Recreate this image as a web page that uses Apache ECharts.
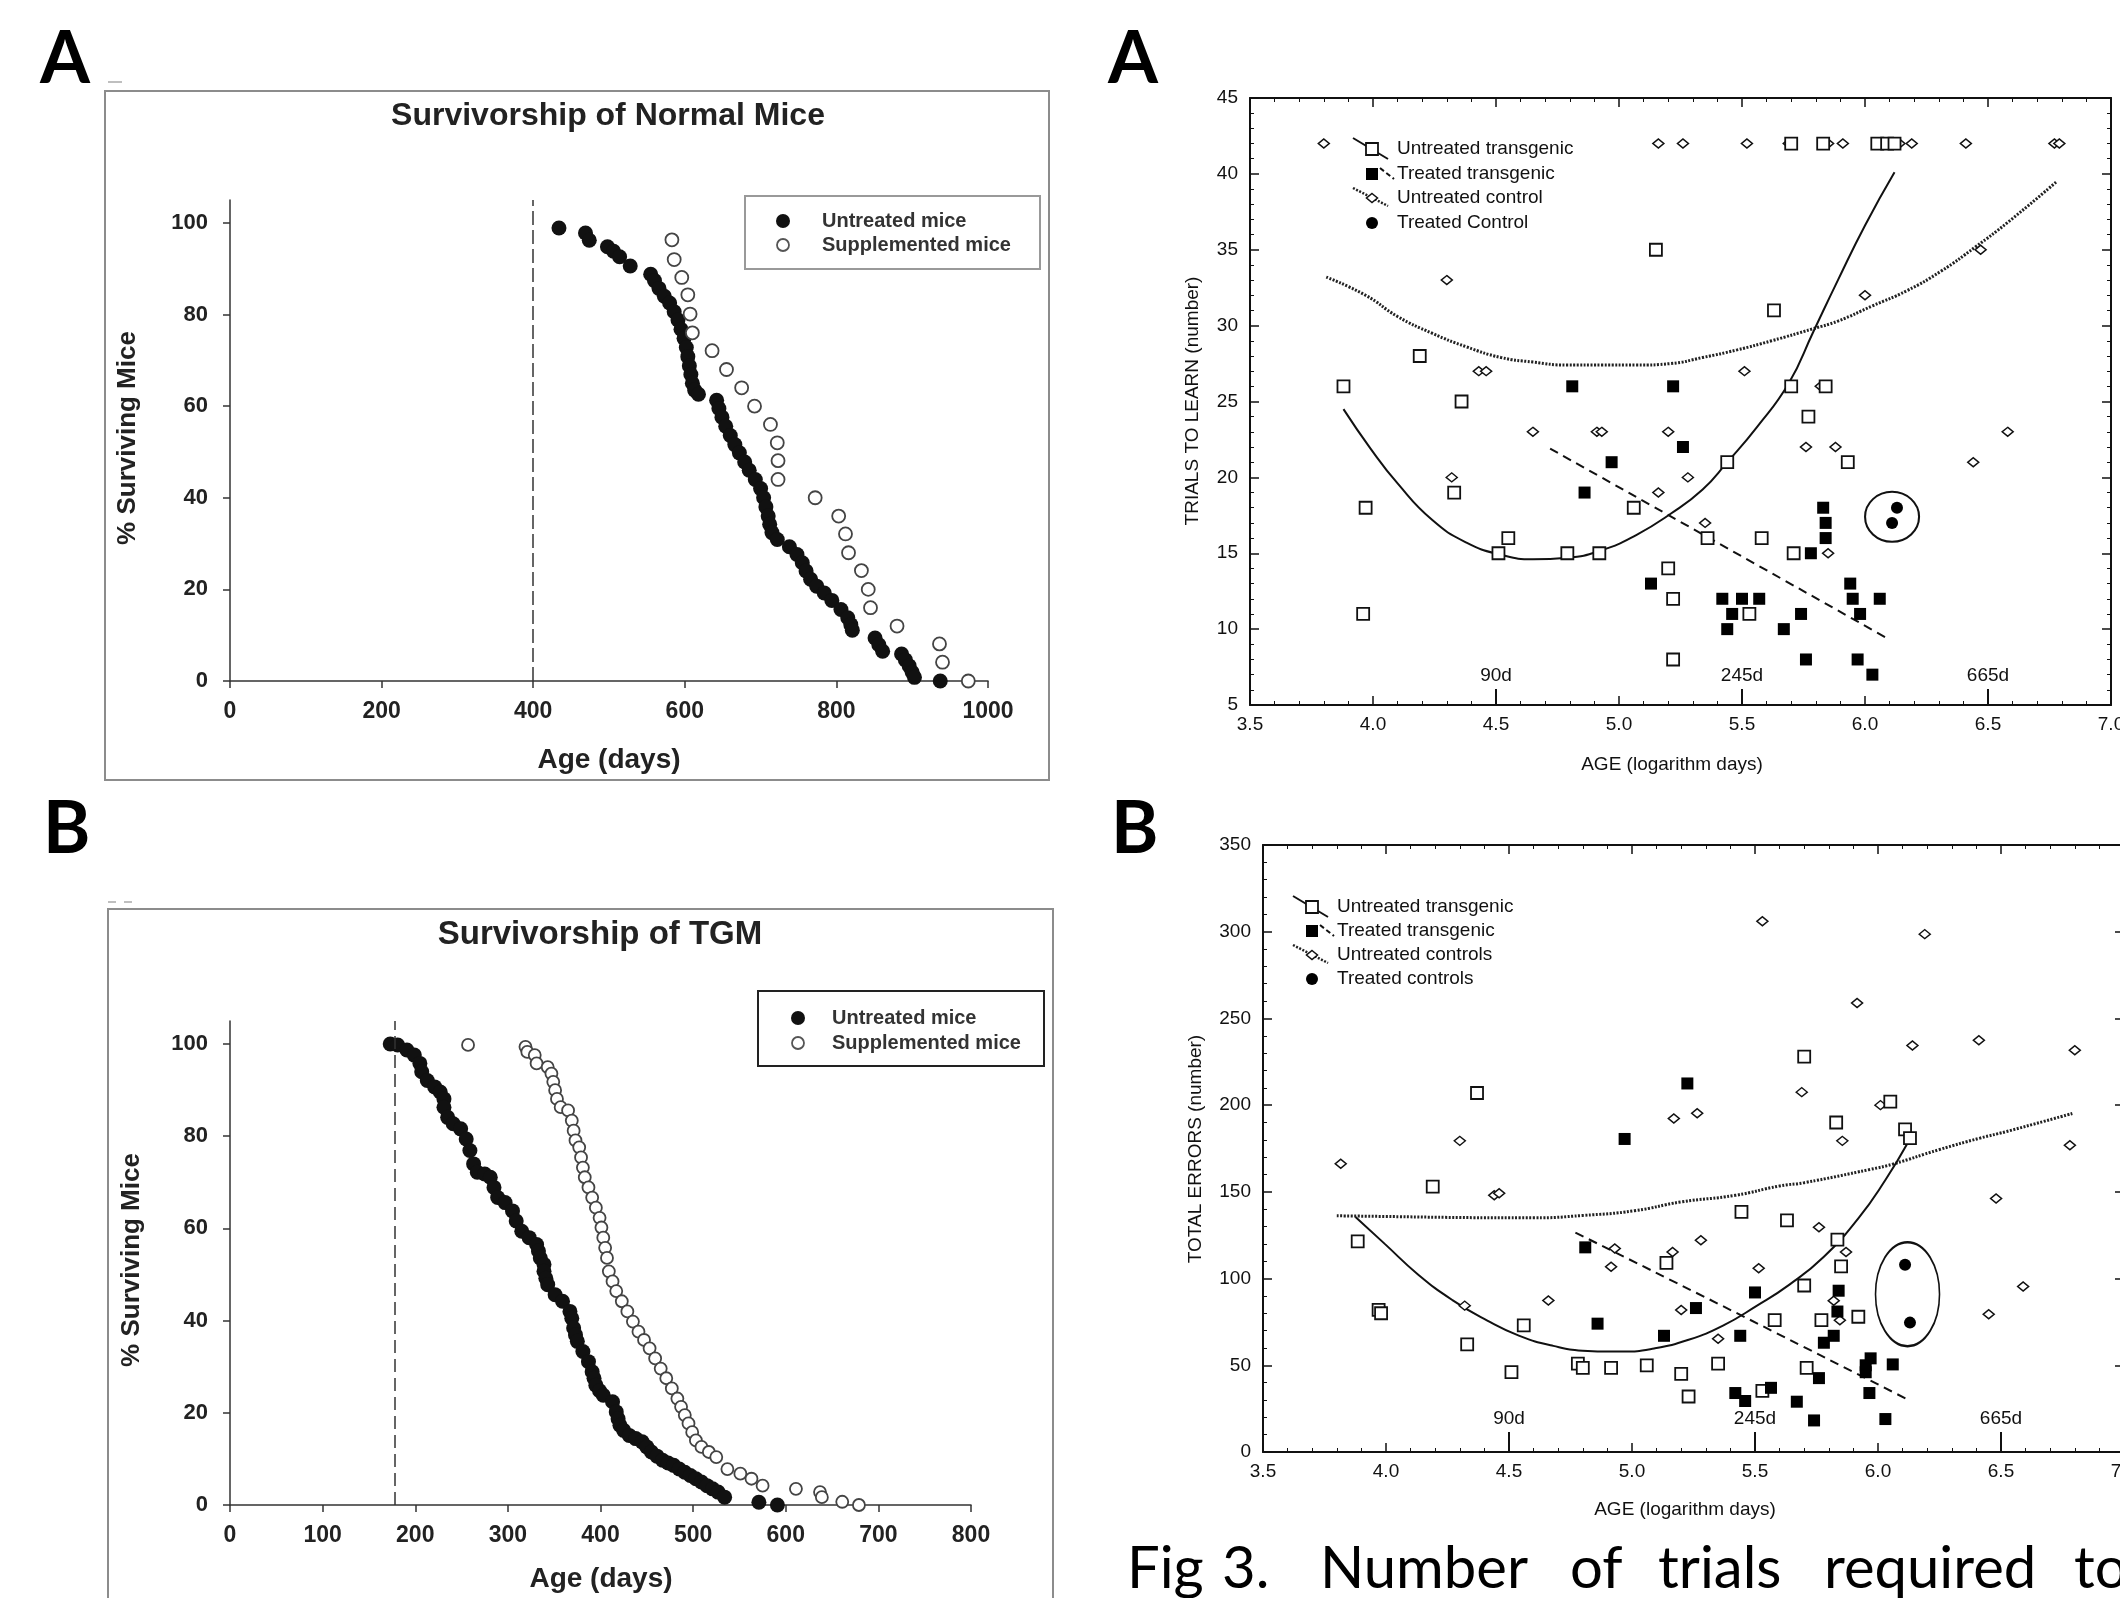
<!DOCTYPE html>
<html lang="en">
<head>
<meta charset="UTF-8">
<title>Survivorship and learning of mice</title>
<style>
    html, body { margin: 0; padding: 0; background: #fff; }
    #chart { width: 2120px; height: 1598px; }
</style>
</head>
<body>
<div id="chart"></div>
<script src="https://cdn.jsdelivr.net/npm/echarts@6/dist/echarts.min.js"></script>
<script>
// ---- survivorship of normal mice: [age in days, % surviving]
var normalUntreated = [
    [434,98.9],[469,97.8],[474,96.2],[498,94.8],[506,93.8],[514,92.6],[528,90.6],[555,88.8],[560,87.4],[566,85.7],
    [573,84.0],[580,82.5],[586,80.6],[591,78.8],[595,76.8],[599,74.8],[602,72.8],[604,70.8],[606,68.8],[608,66.9],
    [610,65.0],[613,63.5],[618,62.6],[642,61.3],[645,59.5],[649,57.6],[654,55.6],[660,53.6],[666,51.6],[672,49.8],
    [679,47.8],[685,46.0],[693,44.0],[700,42.0],[704,40.0],[707,38.0],[710,36.0],[712,34.2],[715,32.4],[722,30.9],
    [738,29.3],[748,27.6],[755,25.8],[760,24.0],[766,22.2],[774,20.7],[784,19.2],[794,17.6],[806,15.6],[815,13.8],
    [819,12.3],[821,11.1],[851,9.4],[856,7.9],[861,6.5],[886,5.9],[891,4.6],[896,3.3],[900,1.9],[903,0.8],[937,0]
];
var normalSupplemented = [
    [583,96.3],[586,92.0],[596,88.1],[604,84.3],[607,80.1],[610,76.0],[636,72.1],[655,68.0],[675,64.0],[692,60.0],
    [713,56.0],[722,52.0],[723,48.1],[723,44.0],[772,40.0],[803,36.0],[812,32.1],[816,28.0],[833,24.1],[842,20.0],
    [845,16.0],[880,12.0],[936,8.1],[940,4.1],[974,0]
];
var normalCutoff = 400;

// ---- survivorship of TGM
var tgmUntreated = [
    [173,100],[181,99.8],[191,98.7],[199,97.6],[205,95.8],[207,94.0],[213,92.1],[221,90.7],[227,89.6],[231,88.1],
    [231,86.3],[235,84.1],[241,82.7],[249,81.6],[255,79.4],[259,76.9],[263,74.0],[267,72.2],[275,71.8],[281,71.1],
    [285,68.9],[289,66.7],[297,65.6],[305,63.8],[309,61.6],[315,59.4],[323,58.0],[331,56.5],[333,55.1],[335,53.6],
    [339,52.2],[339,50.7],[341,49.2],[343,47.8],[351,45.6],[359,44.2],[367,42.0],[369,40.5],[371,38.4],[373,36.9],
    [375,35.5],[381,33.3],[387,31.1],[391,28.9],[393,27.5],[395,26.0],[399,24.8],[403,23.8],[413,22.4],[417,20.2],
    [419,18.7],[421,17.3],[425,16.2],[431,15.1],[438,14.4],[445,13.7],[450,12.6],[455,11.5],[461,10.6],[467,9.7],
    [473,9.1],[479,8.6],[485,7.8],[491,7.1],[497,6.4],[503,5.7],[509,5.0],[515,4.2],[521,3.5],[527,2.8],[534,1.7],
    [571,0.6],[591,0]
];
var tgmSupplemented = [
    [257,99.8],[319,99.4],[321,98.3],[329,97.6],[331,95.8],[343,95.0],[347,93.6],[349,91.8],[351,90.0],[353,88.1],
    [357,86.3],[365,85.6],[369,83.4],[371,81.2],[373,79.1],[377,77.6],[379,75.4],[381,73.2],[383,71.1],[387,68.9],
    [391,66.7],[395,64.5],[399,62.3],[401,60.2],[403,58.0],[405,55.8],[407,53.6],[409,50.7],[413,48.5],[417,46.4],
    [423,44.2],[429,42.0],[435,39.8],[441,37.6],[447,35.8],[453,34.0],[459,31.8],[465,29.6],[471,27.5],[477,25.3],
    [483,23.1],[487,21.3],[491,19.5],[495,17.7],[499,15.8],[503,14.0],[509,12.6],[517,11.5],[525,10.4],[537,7.8],
    [551,6.8],[563,5.7],[575,4.2],[611,3.5],[637,2.8],[639,1.7],[661,0.7],[679,0]
];
var tgmCutoff = 178;
var pctTicks = [0, 20, 40, 60, 80, 100];

// ---- trials to learn: [log age, trials]
var trialsUntreatedTg = [
    [3.88,26],[3.97,18],[3.96,11],[4.19,28],[4.33,19],[4.36,25],[4.51,15],[4.55,16],[4.79,15],[4.92,15],
    [5.06,18],[5.15,35],[5.20,14],[5.22,12],[5.22,8],[5.36,16],[5.44,21],[5.53,11],[5.58,16],[5.63,31],
    [5.70,26],[5.71,15],[5.77,24],[5.84,26],[5.93,21],[5.70,42],[5.83,42],[6.05,42],[6.09,42],[6.12,42]
];
var trialsTreatedTg = [
    [4.81,26],[5.22,26],[5.26,22],[4.97,21],[4.86,19],[5.13,13],[5.42,12],[5.46,11],[5.44,10],[5.50,12],
    [5.57,12],[5.67,10],[5.74,11],[5.76,8],[5.78,15],[5.83,18],[5.84,17],[5.84,16],[5.94,13],[5.95,12],
    [5.98,11],[5.97,8],[6.03,7],[6.06,12]
];
var trialsUntreatedCtl = [
    [3.80,42],[5.16,42],[5.26,42],[5.52,42],[5.69,42],[5.85,42],[5.91,42],[6.14,42],[6.19,42],[6.41,42],
    [6.77,42],[6.79,42],[4.30,33],[4.43,27],[4.46,27],[4.32,20],[4.65,23],[4.91,23],[4.93,23],[5.16,19],
    [5.20,23],[5.28,20],[5.35,17],[5.51,27],[5.76,22],[5.88,22],[5.85,15],[5.82,26],[6.00,32],[6.47,35],
    [6.58,23],[6.44,21]
];
var trialsTreatedCtl = [[6.13,18],[6.11,17]];
var trialsRing = [[6.11,17.4]];
var trialsFitUntreatedTg = [
    [3.88,24.5],[3.99,21.9],[4.10,19.6],[4.24,17.2],[4.38,15.7],[4.52,14.9],[4.65,14.6],[4.79,14.7],[4.93,15.2],
    [5.07,16.2],[5.21,17.6],[5.34,19.2],[5.44,21.0],[5.56,23.3],[5.69,26.2],[5.79,29.6],[5.89,33.0],[6.00,36.6],[6.12,40.1]
];
var trialsFitTreatedTg = [[4.72,21.9],[5.40,15.7],[6.09,9.4]];
var trialsFitUntreatedCtl = [
    [3.81,33.2],[3.97,32.0],[4.10,30.6],[4.24,29.5],[4.38,28.6],[4.52,27.9],[4.65,27.6],[4.79,27.4],[4.93,27.4],
    [5.07,27.4],[5.21,27.5],[5.34,27.9],[5.48,28.4],[5.62,29.0],[5.79,29.8],[5.89,30.3],[6.03,31.3],[6.17,32.3],
    [6.31,33.6],[6.45,35.2],[6.58,36.8],[6.78,39.5]
];

// ---- total errors: [log age, errors]
var errorsUntreatedTg = [
    [3.885,121.5],[3.97,82],[3.98,80],[4.19,153],[4.37,207],[4.33,62],[4.51,46],[4.56,73],[4.78,51],[4.80,48.5],
    [4.915,48.5],[5.06,50],[5.14,109],[5.20,45],[5.23,32],[5.35,51],[5.445,138.5],[5.53,35.3],[5.58,76],[5.63,133.5],
    [5.70,228],[5.70,96],[5.71,48.5],[5.77,76],[5.83,190],[5.835,122.4],[5.85,107],[5.92,78],[6.05,202],[6.11,186],[6.13,181]
];
var errorsTreatedTg = [
    [4.81,118],[4.86,74],[4.97,180.5],[5.225,212.5],[5.13,67],[5.26,83],[5.50,92],[5.44,67],[5.42,34],[5.46,29.4],
    [5.565,37],[5.67,29],[5.74,18.2],[5.76,42.6],[5.78,63],[5.82,67],[5.835,81],[5.84,93],[5.95,50],[5.95,46],
    [5.97,54],[5.965,34],[6.03,19],[6.06,50.5]
];
var errorsUntreatedCtl = [
    [3.816,166.2],[4.30,179.4],[4.32,84.4],[4.44,148],[4.46,149.2],[4.66,87.4],[4.915,106.8],[4.93,117.3],[5.17,192.3],[5.165,115.3],
    [5.20,81.9],[5.265,195.3],[5.28,122.1],[5.35,65.3],[5.515,106],[5.53,306],[5.69,207.5],[5.76,129.6],[5.82,87.2],[5.845,76],
    [5.855,179.4],[5.87,115.3],[5.915,258.9],[6.01,200],[6.14,234.4],[6.19,298.6],[6.41,237.4],[6.48,146.2],[6.45,79.4],[6.59,95.4],
    [6.78,176.9],[6.80,231.7]
];
var errorsTreatedCtl = [[6.11,108],[6.13,74.6]];
var errorsRing = [[6.12,91]];
var errorsFitUntreatedTg = [
    [3.876,135.5],[3.995,120],[4.13,102.4],[4.27,87.6],[4.41,75.9],[4.54,67.1],[4.68,61.2],[4.82,58.2],[4.90,57.9],
    [4.96,57.9],[5.09,59.7],[5.23,64.7],[5.37,72.9],[5.505,84.1],[5.64,96.5],[5.78,112.6],[5.92,134.7],[6.03,156.8],[6.12,178]
];
var errorsFitTreatedTg = [[4.77,126.5],[5.42,80.5],[6.12,30.3]];
var errorsFitUntreatedCtl = [
    [3.80,136.2],[4.00,135.8],[4.30,135.2],[4.60,135.0],[4.80,136.4],[5.01,139.1],[5.20,144.2],[5.42,148],
    [5.60,153.4],[5.70,155.3],[5.97,163],[6.06,166],[6.25,174.4],[6.415,181],[6.52,184.7],[6.79,195.2]
];

var dayTickValues = [4.5, 5.5, 6.5];
var dayTickLabels = ['90d', '245d', '665d'];

var SANS = 'Arial, "Liberation Sans", Helvetica, sans-serif';
var CAP = 'Lato, "Open Sans", "Noto Sans", sans-serif';

function survX(grid, max, step) {
    return {
        type: 'value', gridIndex: grid, min: 0, max: max, interval: step,
        axisLine: {show: true, onZero: false, lineStyle: {color: '#333', width: 1.5}},
        axisTick: {show: true, length: 7, lineStyle: {color: '#333', width: 1.5}},
        axisLabel: {margin: 19, color: '#222', fontFamily: SANS, fontWeight: 'bold', fontSize: 23,
            formatter: function (v) { return String(v); }},
        splitLine: {show: false}
    };
}
function survY(grid) {
    return {
        type: 'value', gridIndex: grid, min: 0, max: 105, interval: 20,
        axisLine: {show: true, onZero: false, lineStyle: {color: '#333', width: 1.5}},
        axisTick: {show: true, length: 7, customValues: pctTicks, lineStyle: {color: '#333', width: 1.5}},
        axisLabel: {margin: 22, customValues: pctTicks, color: '#222', fontFamily: SANS, fontWeight: 'bold', fontSize: 22,
            formatter: function (v) { return v > 100 ? '' : String(v); }},
        splitLine: {show: false}
    };
}
function logX(grid, pos, labels) {
    return {
        type: 'value', gridIndex: grid, position: pos, min: 3.5, max: 7, interval: 0.5,
        axisLine: {show: true, onZero: false, lineStyle: {color: '#111', width: 2}},
        axisTick: {show: true, inside: true, length: 9, lineStyle: {color: '#111', width: 1.5}},
        minorTick: {show: true, splitNumber: 5, length: 4, lineStyle: {color: '#111', width: 1}},
        axisLabel: {show: labels, margin: 10, color: '#111', fontFamily: SANS, fontSize: 19,
            formatter: function (v) { return v.toFixed(1); }},
        splitLine: {show: false}, minorSplitLine: {show: false}
    };
}
function countY(grid, pos, min, max, step, labels) {
    return {
        type: 'value', gridIndex: grid, position: pos, min: min, max: max, interval: step,
        axisLine: {show: true, onZero: false, lineStyle: {color: '#111', width: 2}},
        axisTick: {show: true, inside: true, length: 9, lineStyle: {color: '#111', width: 1.5}},
        minorTick: {show: true, splitNumber: 5, length: 4, lineStyle: {color: '#111', width: 1}},
        axisLabel: {show: labels, margin: 12, color: '#111', fontFamily: SANS, fontSize: 19},
        splitLine: {show: false}, minorSplitLine: {show: false}
    };
}

function dot(axis, data, size) {
    return {type: 'scatter', xAxisIndex: axis, yAxisIndex: axis, data: data, symbol: 'circle',
        symbolSize: size, itemStyle: {color: '#111', opacity: 1}, z: 3};
}
function ring(axis, data, size) {
    return {type: 'scatter', xAxisIndex: axis, yAxisIndex: axis, data: data, symbol: 'circle',
        symbolSize: size, itemStyle: {color: '#fff', borderColor: '#444', borderWidth: 1.8, opacity: 1}, z: 3};
}
function cutoff(value, dash) {
    return {silent: true, symbol: 'none', animation: false, label: {show: false},
        lineStyle: {color: '#333', type: dash, width: 1.5},
        data: [[{coord: [value, 0]}, {coord: [value, 105]}]]};
}
function dayMarks(y0, y1) {
    return {silent: true, symbol: 'none', animation: false,
        lineStyle: {color: '#111', type: 'solid', width: 2},
        label: {show: true, position: 'end', distance: 4, color: '#111', fontFamily: SANS, fontSize: 19,
            formatter: function (p) { return p.name; }},
        data: dayTickValues.map(function (v, i) {
            return [{name: dayTickLabels[i], coord: [v, y0]}, {coord: [v, y1]}];
        })};
}
function learnSeries(ax, untreatedTg, treatedTg, untreatedCtl, treatedCtl, ringData, ringSize,
                     fitU, fitT, fitC, markY0, markY1) {
    return [
        {type: 'line', xAxisIndex: ax, yAxisIndex: ax, data: fitC, smooth: true, showSymbol: false,
            lineStyle: {color: '#222', width: 3, type: [2, 1.5]}, z: 2},
        {type: 'line', xAxisIndex: ax, yAxisIndex: ax, data: fitU, smooth: true, showSymbol: false,
            lineStyle: {color: '#111', width: 2}, z: 2, markLine: dayMarks(markY0, markY1)},
        {type: 'line', xAxisIndex: ax, yAxisIndex: ax, data: fitT, smooth: true, showSymbol: false,
            lineStyle: {color: '#111', width: 2, type: [9, 6]}, z: 2},
        {type: 'scatter', xAxisIndex: ax, yAxisIndex: ax, data: untreatedCtl, symbol: 'diamond', symbolSize: [11, 9],
            itemStyle: {color: '#fff', borderColor: '#111', borderWidth: 1.5, opacity: 1}, z: 3},
        {type: 'scatter', xAxisIndex: ax, yAxisIndex: ax, data: untreatedTg, symbol: 'rect', symbolSize: 12,
            itemStyle: {color: '#fff', borderColor: '#111', borderWidth: 1.8, opacity: 1}, z: 4},
        {type: 'scatter', xAxisIndex: ax, yAxisIndex: ax, data: treatedTg, symbol: 'rect', symbolSize: 12,
            itemStyle: {color: '#000', opacity: 1}, z: 5},
        {type: 'scatter', xAxisIndex: ax, yAxisIndex: ax, data: treatedCtl, symbol: 'circle', symbolSize: 12,
            itemStyle: {color: '#000', opacity: 1}, z: 5},
        {type: 'scatter', xAxisIndex: ax, yAxisIndex: ax, data: ringData, symbol: 'circle', symbolSize: ringSize,
            itemStyle: {color: 'rgba(0,0,0,0)', borderColor: '#111', borderWidth: 2, opacity: 1}, z: 5}
    ];
}

function txt(str, x, y, font, fill, align, rot) {
    return {type: 'text', x: x, y: y, rotation: rot || 0, silent: true,
        style: {text: str, font: font, fill: fill, align: align || 'left', textAlign: align || 'left',
            verticalAlign: 'middle', textVerticalAlign: 'middle'}};
}
function seg(x1, y1, x2, y2, color, width, dash) {
    return {type: 'line', silent: true, shape: {x1: x1, y1: y1, x2: x2, y2: y2},
        style: {stroke: color, lineWidth: width, lineDash: dash || null}};
}
function learnLegend(sx, tx, rows, labels) {
    var els = [];
    var f = '19px ' + SANS;
    els.push(seg(sx - 19, rows[0] - 11, sx + 16, rows[0] + 10, '#111', 2));
    els.push({type: 'rect', silent: true, shape: {x: sx - 6, y: rows[0] - 6, width: 12, height: 12},
        style: {fill: '#fff', stroke: '#111', lineWidth: 1.8}});
    els.push({type: 'rect', silent: true, shape: {x: sx - 6, y: rows[1] - 6, width: 12, height: 12},
        style: {fill: '#000'}});
    els.push(seg(sx + 8, rows[1] - 6, sx + 22, rows[1] + 5, '#111', 2, [5, 3]));
    els.push(seg(sx - 19, rows[2] - 10, sx + 16, rows[2] + 8, '#222', 2.5, [2, 1.5]));
    els.push({type: 'polygon', silent: true,
        shape: {points: [[sx, rows[2] - 4.5], [sx + 5.5, rows[2]], [sx, rows[2] + 4.5], [sx - 5.5, rows[2]]]},
        style: {fill: '#fff', stroke: '#111', lineWidth: 1.5}});
    els.push({type: 'circle', silent: true, shape: {cx: sx, cy: rows[3], r: 6}, style: {fill: '#000'}});
    labels.forEach(function (s, i) { els.push(txt(s, tx, rows[i], f, '#111')); });
    return els;
}
function survLegend(box, dx, tx, rows, boxColor) {
    var f = 'bold 20px ' + SANS;
    return [
        {type: 'rect', silent: true, shape: box, style: {fill: '#fff', stroke: boxColor, lineWidth: 2}},
        {type: 'circle', silent: true, shape: {cx: dx, cy: rows[0], r: 7}, style: {fill: '#111'}},
        {type: 'circle', silent: true, shape: {cx: dx, cy: rows[1], r: 6}, style: {fill: '#fff', stroke: '#555', lineWidth: 1.8}},
        txt('Untreated mice', tx, rows[0], f, '#333'),
        txt('Supplemented mice', tx, rows[1], f, '#333')
    ];
}

var graphics = [
    {type: 'rect', silent: true, shape: {x: 105, y: 91, width: 944, height: 689},
        style: {fill: 'none', stroke: '#8c8c8c', lineWidth: 2}},
    {type: 'rect', silent: true, shape: {x: 108, y: 909, width: 945, height: 720},
        style: {fill: 'none', stroke: '#8c8c8c', lineWidth: 2}},
    seg(108, 82, 122, 82, '#aaa', 1.5),
    seg(108, 902, 116, 902, '#aaa', 1.5),
    seg(124, 902, 132, 902, '#aaa', 1.5),
    txt('A', 40, 60, 'bold 72px ' + CAP, '#000'),
    txt('A', 1108, 60, 'bold 72px ' + CAP, '#000'),
    txt('B', 43, 830, 'bold 72px ' + CAP, '#000'),
    txt('B', 1111, 830, 'bold 72px ' + CAP, '#000'),
    txt('Survivorship of Normal Mice', 608, 116, 'bold 32px ' + SANS, '#222', 'center'),
    txt('Survivorship of TGM', 600, 935, 'bold 33px ' + SANS, '#222', 'center'),
    txt('% Surviving Mice', 128, 438, 'bold 26px ' + SANS, '#222', 'center', Math.PI / 2),
    txt('% Surviving Mice', 132, 1260, 'bold 26px ' + SANS, '#222', 'center', Math.PI / 2),
    txt('Age (days)', 609, 760, 'bold 28px ' + SANS, '#222', 'center'),
    txt('Age (days)', 601, 1579, 'bold 28px ' + SANS, '#222', 'center'),
    txt('TRIALS TO LEARN (number)', 1193, 401, '19px ' + SANS, '#111', 'center', Math.PI / 2),
    txt('TOTAL ERRORS (number)', 1196, 1149, '19px ' + SANS, '#111', 'center', Math.PI / 2),
    txt('AGE (logarithm days)', 1672, 765, '19px ' + SANS, '#111', 'center'),
    txt('AGE (logarithm days)', 1685, 1510, '19px ' + SANS, '#111', 'center')
];
graphics = graphics.concat(
    survLegend({x: 745, y: 196, width: 295, height: 73}, 783, 822, [221, 245], '#999'),
    survLegend({x: 758, y: 991, width: 286, height: 75}, 798, 832, [1018, 1043], '#222'),
    learnLegend(1372, 1397, [149, 174, 198, 223],
        ['Untreated transgenic', 'Treated transgenic', 'Untreated control', 'Treated Control']),
    learnLegend(1312, 1337, [907, 931, 955, 979],
        ['Untreated transgenic', 'Treated transgenic', 'Untreated controls', 'Treated controls'])
);
var captionWords = ['Fig', '3.', 'Number', 'of', 'trials', 'required', 'to'];
var captionX = [1127, 1222, 1320, 1570, 1658, 1824, 2074];
captionWords.forEach(function (w, i) {
    graphics.push(txt(w, captionX[i], 1569, '58px ' + CAP, '#000'));
});

var chart = echarts.init(document.getElementById('chart'));
var option = {
    backgroundColor: '#fff',
    animation: false,
    grid: [
        {left: 230, top: 200, width: 758, height: 481, outerBoundsMode: 'none'},
        {left: 230, top: 1021, width: 741, height: 484, outerBoundsMode: 'none'},
        {left: 1250, top: 98, width: 861, height: 607, outerBoundsMode: 'none'},
        {left: 1263, top: 845, width: 861, height: 607, outerBoundsMode: 'none'}
    ],
    xAxis: [
        survX(0, 1000, 200),
        survX(1, 800, 100),
        logX(2, 'bottom', true),
        logX(3, 'bottom', true),
        logX(2, 'top', false),
        logX(3, 'top', false)
    ],
    yAxis: [
        survY(0),
        survY(1),
        countY(2, 'left', 5, 45, 5, true),
        countY(3, 'left', 0, 350, 50, true),
        countY(2, 'right', 5, 45, 5, false),
        countY(3, 'right', 0, 350, 50, false)
    ],
    series: [
        Object.assign(dot(0, normalUntreated, 15), {markLine: cutoff(normalCutoff, [14, 5])}),
        ring(0, normalSupplemented, 13),
        Object.assign(dot(1, tgmUntreated, 15), {markLine: cutoff(tgmCutoff, [13, 6])}),
        ring(1, tgmSupplemented, 12)
    ].concat(
        learnSeries(2, trialsUntreatedTg, trialsTreatedTg, trialsUntreatedCtl, trialsTreatedCtl,
            trialsRing, [54, 50], trialsFitUntreatedTg, trialsFitTreatedTg, trialsFitUntreatedCtl, 5, 6.05),
        learnSeries(3, errorsUntreatedTg, errorsTreatedTg, errorsUntreatedCtl, errorsTreatedCtl,
            errorsRing, [64, 104], errorsFitUntreatedTg, errorsFitTreatedTg, errorsFitUntreatedCtl, 0, 11.5)
    ),
    graphic: graphics
};
chart.setOption(option);
</script>
</body>
</html>
